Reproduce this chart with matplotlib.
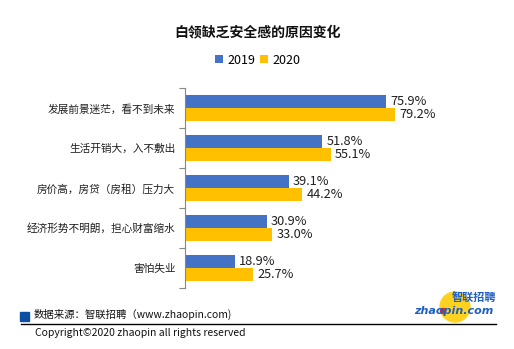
import matplotlib.pyplot as plt
from matplotlib.patches import Rectangle, Ellipse
from matplotlib.lines import Line2D

plt.rcParams['font.family'] = ['Noto Sans CJK SC', 'DejaVu Sans']

categories = ["发展前景迷茫，看不到未来", "生活开销大，入不敷出", "房价高，房贷（房租）压力大",
              "经济形势不明朗，担心财富缩水", "害怕失业"]
years = ["2019", "2020"]
values_2019 = [75.9, 51.8, 39.1, 30.9, 18.9]
values_2020 = [79.2, 55.1, 44.2, 33.0, 25.7]

BLUE = "#4472C4"
YELLOW = "#FFC000"
W, H = 514, 349

fig = plt.figure(figsize=(W / 100, H / 100), dpi=100)


def fx(px):
    return px / W


def fy(py):
    return 1 - py / H


# plot area in pixel terms: x from 185, y from 88 to 288
ax = fig.add_axes([fx(185), fy(288), fx(265), 200 / H])
bh = 0.33
pos = range(len(categories))
b1 = ax.barh([p - bh / 2 for p in pos], values_2019, height=bh, color=BLUE, label=years[0])
b2 = ax.barh([p + bh / 2 for p in pos], values_2020, height=bh, color=YELLOW, label=years[1])
for bars in (b1, b2):
    ax.bar_label(bars, labels=[f"{v:.1f}%" for v in bars.datavalues], padding=3,
                 fontsize=9.2, color="#202020")

ax.set_xlim(0, 100)
ax.set_ylim(len(categories) - 0.5, -0.5)
ax.set_yticks(list(pos))
ax.set_yticklabels(categories, fontsize=7.7, color="#202020")
ax.set_yticks([p - 0.5 for p in range(len(categories) + 1)], minor=True)
ax.tick_params(axis="y", which="major", length=0, pad=7)
ax.tick_params(axis="y", which="minor", length=4, color="#868686", width=0.8)
ax.set_xticks([])
for s in ("top", "right", "bottom"):
    ax.spines[s].set_visible(False)
ax.spines["left"].set_color("#868686")
ax.spines["left"].set_linewidth(0.8)

fig.text(fx(258), fy(32), "白领缺乏安全感的原因变化", ha="center", va="center",
         fontsize=10, fontweight="bold", color="#111111")

# legend
fig.legend(handles=[b1, b2], labels=years, loc="center", bbox_to_anchor=(fx(258), fy(60)),
           ncol=2, frameon=False, fontsize=9, handlelength=0.6, handleheight=0.6,
           handletextpad=0.4, columnspacing=0.4)

# footer
fig.patches.append(Rectangle((fx(20), fy(321)), fx(9), 9 / H, transform=fig.transFigure,
                             color="#0B4EA2"))
fig.text(fx(34), fy(314), "数据来源：智联招聘（www.zhaopin.com)", fontsize=7.5,
         va="center", ha="left", color="#111111")
fig.lines.append(Line2D([fx(21), fx(496)], [fy(324), fy(324)], transform=fig.transFigure,
                        color="black", lw=1))
fig.text(fx(35), fy(333), "Copyright©2020 zhaopin all rights reserved", fontsize=7.5,
         va="center", ha="left", color="#111111")

# logo
fig.patches.append(Ellipse((fx(455), fy(307)), fx(30), 30 / H, transform=fig.transFigure,
                           color="#FFD21F"))
fig.text(fx(474), fy(298), "智联招聘", fontsize=8, fontweight="bold", style="italic",
         color="#1F5FBF", ha="center", va="center")
fig.text(fx(454), fy(311), "zhaopin.com", fontsize=8, fontweight="bold", style="italic",
         color="#1F5FBF", ha="center", va="center", family="DejaVu Sans")
fig.patches.append(Ellipse((fx(443), fy(311)), fx(5), 5 / H, transform=fig.transFigure,
                           color="#D62828"))

fig.savefig("out.png", dpi=100)
